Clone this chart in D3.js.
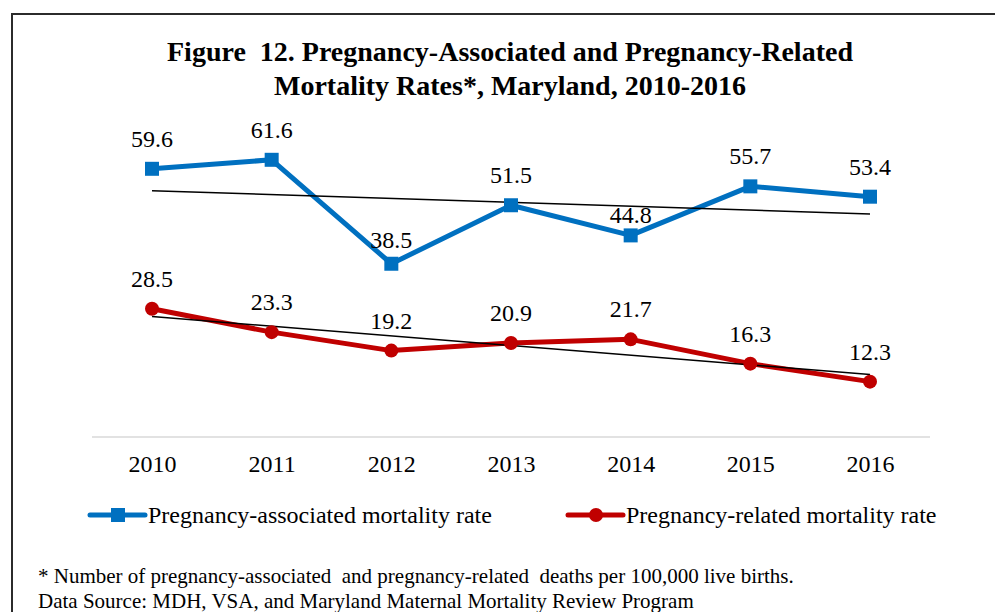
<!DOCTYPE html>
<html><head><meta charset="utf-8">
<script src="https://cdn.jsdelivr.net/npm/d3@7"></script>
<style>body{margin:0;background:#fff}svg{display:block}text{font-family:"Liberation Serif","Times New Roman",serif;fill:#000}</style>
</head><body><svg id="c" width="995" height="612"></svg>
<script>
const years = ["2010","2011","2012","2013","2014","2015","2016"];
const associated = [59.6, 61.6, 38.5, 51.5, 44.8, 55.7, 53.4];
const related = [28.5, 23.3, 19.2, 20.9, 21.7, 16.3, 12.3];
const titleLines = ["Figure  12. Pregnancy-Associated and Pregnancy-Related", "Mortality Rates*, Maryland, 2010-2016"];
const legendLabels = ["Pregnancy-associated mortality rate", "Pregnancy-related mortality rate"];
const notes = ["* Number of pregnancy-associated  and pregnancy-related  deaths per 100,000 live births.", "Data Source: MDH, VSA, and Maryland Maternal Mortality Review Program"];

const svg = d3.select("#c");
const BLUE = "#0070C0", RED = "#C00000";

svg.append("rect").attr("x", 12).attr("y", 14).attr("width", 1000).attr("height", 700)
  .attr("fill", "none").attr("stroke", "#2b2b2b").attr("stroke-width", 2);

const x = d3.scalePoint().domain(years).range([152, 870]).padding(0);
const y = d3.scaleLinear().domain([0, 70]).range([437, 122]);

// title
svg.append("g").selectAll("text").data(titleLines).join("text")
  .attr("x", 510).attr("y", (d, i) => 61 + i * 34).attr("text-anchor", "middle")
  .attr("font-size", 28).attr("font-weight", "bold").style("white-space", "pre").text(d => d);

// axis
const xAxis = d3.axisBottom(x).tickSize(0).tickPadding(0);
const ax = svg.append("g").attr("transform", "translate(0,437)").call(xAxis);
ax.select(".domain").remove();
ax.selectAll("text").attr("font-size", 24).attr("font-family", "Liberation Serif").attr("fill", "#000")
  .attr("dy", null).attr("y", 35);
svg.append("line").attr("x1", 92).attr("x2", 930).attr("y1", y(0)).attr("y2", y(0))
  .attr("stroke", "#d9d9d9").attr("stroke-width", 1.5);

// trendlines
function trend(vals) {
  const n = vals.length, mx = (n - 1) / 2, my = d3.mean(vals);
  let num = 0, den = 0;
  vals.forEach((v, i) => { num += (i - mx) * (v - my); den += (i - mx) * (i - mx); });
  const b = num / den, a = my - b * mx;
  return [[0, a], [n - 1, a + b * (n - 1)]];
}
// label placement tweaks (layout only)
const labelLift = { "associated-2012": 16, "associated-2014": 12 };
const line = d3.line().x((d, i) => x(years[i])).y(d => y(d));
[[associated, BLUE, "square", "associated"], [related, RED, "circle", "related"]].forEach(([vals, col, shape, key]) => {
  svg.append("path").datum(vals).attr("d", line).attr("fill", "none")
    .attr("stroke", col).attr("stroke-width", 5).attr("stroke-linejoin", "round");
  const t = trend(vals);
  svg.append("line").attr("x1", x(years[t[0][0]])).attr("y1", y(t[0][1]))
    .attr("x2", x(years[t[1][0]])).attr("y2", y(t[1][1])).attr("stroke", "#000").attr("stroke-width", 1.5);
  const g = svg.append("g");
  if (shape === "square") {
    g.selectAll("rect").data(vals).join("rect")
      .attr("x", (d, i) => x(years[i]) - 7).attr("y", d => y(d) - 7)
      .attr("width", 14).attr("height", 14).attr("fill", col);
  } else {
    g.selectAll("circle").data(vals).join("circle")
      .attr("cx", (d, i) => x(years[i])).attr("cy", d => y(d)).attr("r", 7).attr("fill", col);
  }
  svg.append("g").selectAll("text").data(vals).join("text")
    .attr("x", (d, i) => x(years[i]))
    .attr("y", (d, i) => y(d) - (labelLift[key + "-" + years[i]] || 22))
    .attr("text-anchor", "middle").attr("font-size", 24).text(d => d.toFixed(1));
});

// legend
const leg = [[90, BLUE, "square", legendLabels[0]], [568, RED, "circle", legendLabels[1]]];
leg.forEach(([lx, col, shape, lab]) => {
  const ly = 515;
  svg.append("line").attr("x1", lx).attr("x2", lx + 55).attr("y1", ly).attr("y2", ly)
    .attr("stroke", col).attr("stroke-width", 5).attr("stroke-linecap", "round");
  if (shape === "square") svg.append("rect").attr("x", lx + 21).attr("y", ly - 7).attr("width", 14).attr("height", 14).attr("fill", col);
  else svg.append("circle").attr("cx", lx + 28).attr("cy", ly).attr("r", 7).attr("fill", col);
  svg.append("text").attr("x", lx + 58).attr("y", ly + 8).attr("font-size", 24).text(lab);
});

// notes
svg.append("g").selectAll("text").data(notes).join("text")
  .attr("x", 38).attr("y", (d, i) => 583 + i * 25).attr("font-size", 21)
  .style("white-space", "pre").text(d => d);
</script></body></html>
